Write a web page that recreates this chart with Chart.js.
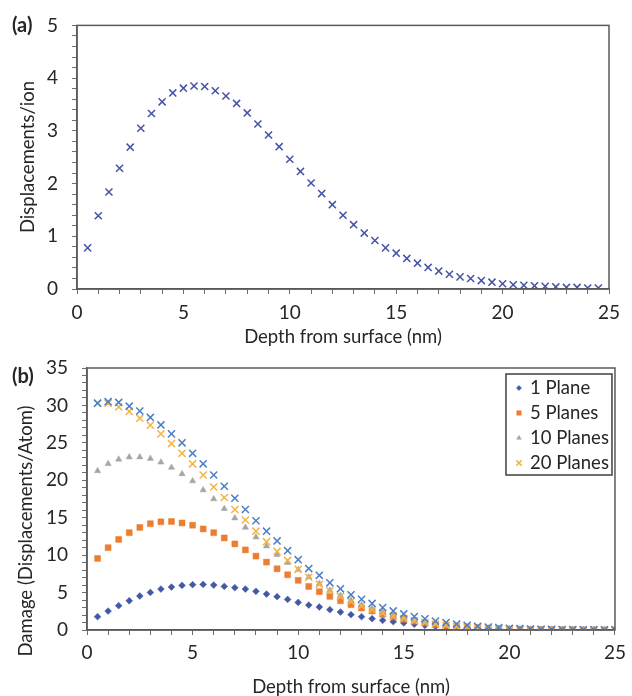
<!DOCTYPE html>
<html>
<head>
<meta charset="utf-8">
<script src="https://cdn.jsdelivr.net/npm/chart.js@4.4.1/dist/chart.umd.min.js"></script>
<style>
    body { margin: 0; background: #fff; width: 632px; height: 696px; overflow: hidden; position: relative; }
    canvas { position: absolute; left: 0; }
    #grafico_a { top: 0; }
    #grafico_b { top: 340px; }
</style>
</head>
<body>
<canvas id="grafico_a" width="632" height="360"></canvas>
<canvas id="grafico_b" width="632" height="356"></canvas>
<script>
// dados do painel (a)
var profundidade_a = [0.5, 1, 1.5, 2, 2.5, 3, 3.5, 4, 4.5, 5, 5.5, 6, 6.5, 7, 7.5, 8, 8.5, 9, 9.5, 10,
    10.5, 11, 11.5, 12, 12.5, 13, 13.5, 14, 14.5, 15, 15.5, 16, 16.5, 17, 17.5, 18, 18.5, 19, 19.5, 20,
    20.5, 21, 21.5, 22, 22.5, 23, 23.5, 24, 24.5];
var deslocamentos_ion = [0.78, 1.39, 1.84, 2.29, 2.69, 3.05, 3.33, 3.55, 3.72, 3.81, 3.85, 3.84, 3.76, 3.66, 3.52, 3.34, 3.13, 2.92, 2.70, 2.46,
    2.23, 2.01, 1.81, 1.60, 1.40, 1.22, 1.06, 0.92, 0.78, 0.68, 0.58, 0.49, 0.41, 0.34, 0.28, 0.23, 0.20, 0.16, 0.13, 0.10,
    0.08, 0.07, 0.06, 0.05, 0.04, 0.03, 0.03, 0.02, 0.02];

// dados do painel (b)
var profundidade_b = [0.5, 1, 1.5, 2, 2.5, 3, 3.5, 4, 4.5, 5, 5.5, 6, 6.5, 7, 7.5, 8, 8.5, 9, 9.5, 10,
    10.5, 11, 11.5, 12, 12.5, 13, 13.5, 14, 14.5, 15, 15.5, 16, 16.5, 17, 17.5, 18, 18.5, 19, 19.5, 20,
    20.5, 21, 21.5, 22, 22.5, 23, 23.5, 24, 24.5, 25];
var plano_1 = [1.78, 2.53, 3.25, 3.91, 4.54, 5.02, 5.47, 5.74, 5.96, 6.05, 6.09, 6.00, 5.82, 5.65, 5.47, 5.16, 4.80, 4.45, 4.09, 3.69,
    3.33, 3.07, 2.71, 2.40, 2.05, 1.78, 1.51, 1.29, 1.11, 0.95, 0.78, 0.63, 0.50, 0.40, 0.32, 0.25, 0.20, 0.15, 0.12, 0.09,
    0.07, 0.05, 0.04, 0.03, 0.03, 0.02, 0.02, 0.01, 0.01, 0.01];
var planos_5 = [9.56, 11.0, 12.1, 13.0, 13.7, 14.2, 14.45, 14.5, 14.3, 14.0, 13.5, 13.0, 12.3, 11.5, 10.7, 9.87, 9.07, 8.18, 7.38, 6.63,
    5.82, 5.11, 4.49, 3.91, 3.38, 2.93, 2.53, 2.10, 1.75, 1.45, 1.18, 0.95, 0.75, 0.60, 0.47, 0.37, 0.29, 0.22, 0.17, 0.13,
    0.10, 0.08, 0.06, 0.05, 0.04, 0.03, 0.02, 0.02, 0.01, 0.01];
var planos_10 = [21.25, 22.2, 22.8, 23.1, 23.1, 22.9, 22.4, 21.7, 20.85, 19.9, 18.7, 17.5, 16.2, 14.95, 13.7, 12.4, 11.2, 10.05, 9.0, 8.05,
    7.07, 6.2, 5.3, 4.6, 3.95, 3.35, 2.85, 2.40, 2.00, 1.65, 1.35, 1.10, 0.88, 0.70, 0.55, 0.43, 0.34, 0.26, 0.20, 0.15,
    0.12, 0.09, 0.07, 0.05, 0.04, 0.03, 0.02, 0.02, 0.01, 0.01];
var planos_20 = [30.3, 30.3, 29.8, 29.2, 28.3, 27.35, 26.2, 24.9, 23.6, 22.2, 20.7, 19.1, 17.7, 16.1, 14.7, 13.2, 11.8, 10.5, 9.3, 8.1,
    7.05, 6.1, 5.25, 4.45, 3.8, 3.2, 2.7, 2.25, 1.85, 1.55, 1.25, 1.0, 0.8, 0.63, 0.5, 0.39, 0.3, 0.23, 0.18, 0.14,
    0.11, 0.08, 0.06, 0.05, 0.04, 0.03, 0.02, 0.02, 0.01, 0.01];
// quinta serie (cruzes azuis), fora da legenda
var serie_5 = [30.3, 30.5, 30.4, 29.9, 29.25, 28.4, 27.4, 26.2, 25.0, 23.6, 22.2, 20.7, 19.2, 17.6, 16.1, 14.6, 13.2, 11.9, 10.6, 9.4,
    8.2, 7.3, 6.3, 5.5, 4.7, 4.1, 3.55, 3.0, 2.55, 2.15, 1.8, 1.5, 1.2, 1.0, 0.8, 0.64, 0.5, 0.4, 0.31, 0.24,
    0.18, 0.14, 0.1, 0.08, 0.06, 0.05, 0.04, 0.03, 0.02, 0.02];

var nomes_series = ['1 Plane', '5 Planes', '10 Planes', '20 Planes', ''];
var ticks_x = [0, 5, 10, 15, 20, 25];
var ticks_y_a = [0, 1, 2, 3, 4, 5];
var ticks_y_b = [0, 5, 10, 15, 20, 25, 30, 35];

var cor_texto = '#262626';
var cor_eixo = '#595959';

Chart.defaults.font.family = 'Lato';
Chart.defaults.color = cor_texto;

function pontos(xs, ys) {
    var arr = [];
    for (var i = 0; i < xs.length; i++) {
        arr.push({x: xs[i], y: ys[i]});
    }
    return arr;
}

function tem_tick(lista, v) {
    for (var i = 0; i < lista.length; i++) {
        if (Math.abs(lista[i] - v) < 1e-6) return true;
    }
    return false;
}

// moldura, letra do painel e titulo do eixo y
var plugin_moldura = {
    id: 'moldura',
    afterDraw: function(chart, args, opts) {
        var ctx = chart.ctx;
        var a = chart.chartArea;
        ctx.save();
        ctx.strokeStyle = cor_eixo;
        ctx.lineWidth = 1.5;
        ctx.strokeRect(a.left, a.top, a.right - a.left, a.bottom - a.top);

        ctx.fillStyle = cor_texto;
        ctx.font = 'bold 20px Lato';
        ctx.textAlign = 'left';
        ctx.textBaseline = 'middle';
        ctx.fillText(opts.letra, opts.letra_x, opts.letra_y);

        ctx.font = '18.5px Lato';
        ctx.translate(opts.titulo_x, opts.titulo_y);
        ctx.rotate(-Math.PI / 2);
        ctx.textAlign = 'center';
        ctx.fillText(opts.titulo, 0, 0);
        ctx.restore();
    }
};

// legenda com caixa dentro da area do grafico (b)
var plugin_legenda = {
    id: 'legenda_caixa',
    afterDraw: function(chart) {
        if (!chart.options.plugins.legenda_caixa) return;
        var ctx = chart.ctx;
        var a = chart.chartArea;
        var itens = chart.data.datasets.filter(function(d) { return d.label; });
        var esq = a.right - 109;
        var topo = a.top + 6;
        ctx.save();
        ctx.fillStyle = '#fff';
        ctx.fillRect(esq, topo, 106, 101);
        ctx.strokeStyle = '#404040';
        ctx.lineWidth = 1.5;
        ctx.strokeRect(esq, topo, 106, 101);
        for (var i = 0; i < itens.length; i++) {
            var d = itens[i];
            var y = topo + 14 + i * 25;
            ctx.fillStyle = d.backgroundColor;
            ctx.strokeStyle = d.borderColor;
            ctx.lineWidth = d.borderWidth;
            Chart.helpers.drawPoint(ctx, {
                pointStyle: d.pointStyle,
                radius: d.pointRadius * 0.75,
                borderWidth: d.borderWidth,
                rotation: 0
            }, esq + 13, y);
            ctx.fillStyle = cor_texto;
            ctx.font = '18.5px Lato';
            ctx.textAlign = 'left';
            ctx.textBaseline = 'middle';
            ctx.fillText(d.label, esq + 24, y);
        }
        ctx.restore();
    }
};

function escala_x(altura, pad_label, pad_titulo) {
    return {
        type: 'linear',
        min: 0,
        max: 25,
        ticks: {
            stepSize: 1,
            autoSkip: false,
            maxRotation: 0,
            padding: pad_label,
            font: {size: 19},
            callback: function(v) { return tem_tick(ticks_x, v) ? Math.round(v) : ''; }
        },
        grid: {drawOnChartArea: false, tickLength: 5, color: '#6e6e6e'},
        border: {color: cor_eixo, width: 1.5},
        title: {
            display: true,
            text: 'Depth from surface (nm)',
            font: {size: 18.5, lineHeight: 1},
            padding: {top: 0, bottom: pad_titulo}
        },
        afterFit: function(s) { s.height = altura; }
    };
}

function escala_y(maximo, passo, lista, largura) {
    return {
        type: 'linear',
        min: 0,
        max: maximo,
        ticks: {
            stepSize: passo,
            autoSkip: false,
            maxTicksLimit: 100,
            padding: 14,
            font: {size: 19},
            callback: function(v) { return tem_tick(lista, v) ? Math.round(v) : ''; }
        },
        grid: {drawOnChartArea: false, tickLength: 5, color: '#6e6e6e'},
        border: {color: cor_eixo, width: 1.5},
        afterFit: function(s) { s.width = largura; }
    };
}

function construir_grafico_a() {
    var ctx = document.getElementById('grafico_a');
    new Chart(ctx, {
        type: 'scatter',
        data: {
            datasets: [{
                label: 'Displacements/ion',
                data: pontos(profundidade_a, deslocamentos_ion),
                pointStyle: 'crossRot',
                pointRadius: 5,
                pointHoverRadius: 5,
                backgroundColor: '#4652a3',
                borderColor: '#4652a3',
                borderWidth: 1.5
            }]
        },
        options: {
            responsive: false,
            animation: false,
            layout: {padding: {top: 25, right: 23, left: 0, bottom: 0}},
            scales: {
                x: escala_x(71, 7, 14),
                y: escala_y(5, 0.2, ticks_y_a, 77)
            },
            plugins: {
                legend: {display: false},
                tooltip: {enabled: false},
                moldura: {letra: '(a)', letra_x: 12, letra_y: 26, titulo: 'Displacements/ion', titulo_x: 28, titulo_y: 157}
            }
        },
        plugins: [plugin_moldura]
    });
}

function construir_grafico_b() {
    var series = [plano_1, planos_5, planos_10, planos_20, serie_5];
    var estilos = ['rectRot', 'rect', 'triangle', 'crossRot', 'crossRot'];
    var raios = [3.4, 4.2, 3.6, 5, 5];
    var cores = ['#4159a6', '#ed7d31', '#a5a5a5', '#f4b445', '#4a80c4'];
    var bordas = [0.5, 0.5, 0.5, 1.5, 1.5];
    var datasets = [];

    for (var i = 0; i < series.length; i++) {
        datasets.push({
            label: nomes_series[i],
            data: pontos(profundidade_b, series[i]),
            pointStyle: estilos[i],
            pointRadius: raios[i],
            pointHoverRadius: raios[i],
            backgroundColor: cores[i],
            borderColor: cores[i],
            borderWidth: bordas[i],
            order: series.length - i
        });
    }

    var ctx = document.getElementById('grafico_b');
    new Chart(ctx, {
        type: 'scatter',
        data: {datasets: datasets},
        options: {
            responsive: false,
            animation: false,
            layout: {padding: {top: 28, right: 10, left: 0, bottom: 0}},
            scales: {
                x: escala_x(66, 6, 0),
                y: escala_y(35, 1, ticks_y_b, 87)
            },
            plugins: {
                legend: {display: false},
                tooltip: {enabled: false},
                legenda_caixa: {},
                moldura: {letra: '(b)', letra_x: 12, letra_y: 37, titulo: 'Damage (Displacements/Atom)', titulo_x: 26, titulo_y: 191}
            }
        },
        plugins: [plugin_moldura, plugin_legenda]
    });
}

construir_grafico_a();
construir_grafico_b();
</script>
</body>
</html>
